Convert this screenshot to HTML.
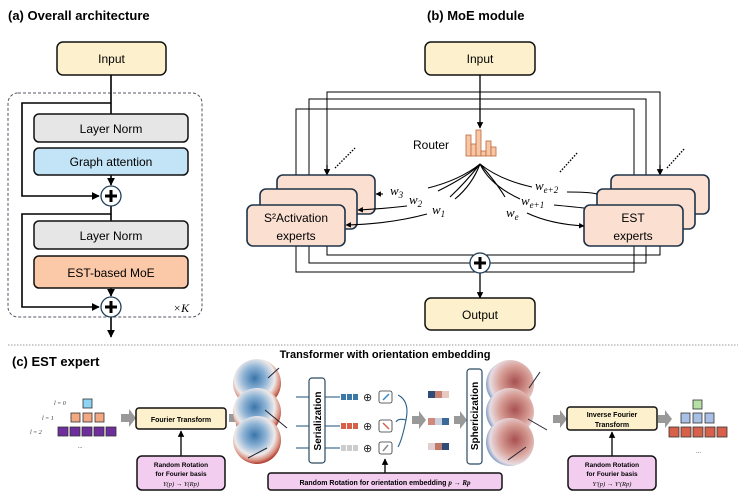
<!DOCTYPE html>
<html><head><meta charset="utf-8"><style>
body{margin:0;background:#fff}
svg{display:block;font-family:"Liberation Sans",sans-serif}
</style></head><body>
<svg width="741" height="499" viewBox="0 0 741 499" xmlns="http://www.w3.org/2000/svg">
<defs>
<marker id="a" viewBox="0 0 10 10" refX="9" refY="5" markerWidth="5" markerHeight="5" orient="auto"><path d="M0,0L10,5L0,10z" fill="#000"/></marker>
<radialGradient id="sp" cx="0.45" cy="0.4" r="0.6"><stop offset="0" stop-color="#3a75aa"/><stop offset="0.4" stop-color="#8fb4d6"/><stop offset="0.7" stop-color="#eeeaea"/><stop offset="0.88" stop-color="#d89080"/><stop offset="1" stop-color="#b03c30"/></radialGradient>
<radialGradient id="sp2" cx="0.6" cy="0.45" r="0.65"><stop offset="0" stop-color="#a85050"/><stop offset="0.5" stop-color="#d8a098"/><stop offset="0.8" stop-color="#e8dce2"/><stop offset="1" stop-color="#4a7fb8"/></radialGradient>
</defs>
<!-- (a) -->
<text x="8" y="20" font-size="13" font-weight="bold">(a) Overall architecture</text>
<rect x="57" y="42" width="109" height="33" rx="6" fill="#fdf1cd" stroke="#111" stroke-width="1.5"/>
<text x="111.5" y="63" font-size="12" text-anchor="middle">Input</text>
<rect x="8" y="93" width="194" height="224" rx="10" fill="none" stroke="#556" stroke-dasharray="3,2"/>
<g stroke="#000" stroke-width="1.6" fill="none">
<path d="M111,75V114"/><path d="M111,103H22V196H99" marker-end="url(#a)"/>
<path d="M111,175V185" marker-end="url(#a)"/>
<path d="M111,206V221"/><path d="M111,214H22V307H99" marker-end="url(#a)"/>
<path d="M111,288V296" marker-end="url(#a)"/><path d="M111,317V337" marker-end="url(#a)"/>
</g>
<rect x="34" y="114" width="154" height="28" rx="5" fill="#e6e6e6" stroke="#111" stroke-width="1.5"/>
<text x="111" y="133" font-size="12" text-anchor="middle">Layer Norm</text>
<rect x="34" y="148" width="154" height="27" rx="5" fill="#c3e3f6" stroke="#111" stroke-width="1.5"/>
<text x="111" y="166" font-size="12" text-anchor="middle">Graph attention</text>
<rect x="34" y="221" width="154" height="28" rx="5" fill="#e6e6e6" stroke="#111" stroke-width="1.5"/>
<text x="111" y="240" font-size="12" text-anchor="middle">Layer Norm</text>
<rect x="34" y="256" width="154" height="32" rx="5" fill="#fbc9a8" stroke="#111" stroke-width="1.5"/>
<text x="111" y="277" font-size="12" text-anchor="middle">EST-based MoE</text>
<g><circle cx="111" cy="196" r="10" fill="#fff" stroke="#1f3f5a" stroke-width="1.3"/><path d="M111,190V202M105,196H117" stroke="#000" stroke-width="3"/>
<circle cx="111" cy="307" r="10" fill="#fff" stroke="#1f3f5a" stroke-width="1.3"/><path d="M111,301V313M105,307H117" stroke="#000" stroke-width="3"/></g>
<text x="173" y="312" font-size="12" font-style="italic" font-family="Liberation Serif,serif">×K</text>
<!-- (b) -->
<text x="427" y="20" font-size="13" font-weight="bold">(b) MoE module</text>
<rect x="425" y="42" width="110" height="33" rx="6" fill="#fdf1cd" stroke="#111" stroke-width="1.5"/>
<text x="480" y="63" font-size="12" text-anchor="middle">Input</text>
<g stroke="#000" stroke-width="1" fill="none">
<path d="M327,175V92H660V175" /><path d="M309,189V99H646V189"/><path d="M296,205V109H634V205"/>
<path d="M327,214V255H660V214"/><path d="M309,229V263H646V229"/><path d="M296,246V272H634V246"/>
</g>
<g stroke="#000" stroke-width="1.3" fill="none">
<path d="M480,75V128" marker-end="url(#a)"/>
<path d="M327,165V175" marker-end="url(#a)"/><path d="M309,179V189" marker-end="url(#a)"/><path d="M296,195V205" marker-end="url(#a)"/>
<path d="M660,165V175" marker-end="url(#a)"/><path d="M646,179V189" marker-end="url(#a)"/><path d="M634,195V205" marker-end="url(#a)"/>
<path d="M480,273V298" marker-end="url(#a)"/>
</g>
<rect x="277" y="175" width="98" height="39" rx="6" fill="#fbe0d2" stroke="#1f3348" stroke-width="1.6"/>
<rect x="260" y="189" width="97" height="40" rx="6" fill="#fbe0d2" stroke="#1f3348" stroke-width="1.6"/>
<rect x="247" y="205" width="98" height="41" rx="6" fill="#fbe0d2" stroke="#1f3348" stroke-width="1.6"/>
<text x="296" y="222" font-size="12" text-anchor="middle">S²Activation</text>
<text x="296" y="240" font-size="12" text-anchor="middle">experts</text>
<rect x="611" y="175" width="98" height="39" rx="6" fill="#fbe0d2" stroke="#1f3348" stroke-width="1.6"/>
<rect x="597" y="189" width="98" height="40" rx="6" fill="#fbe0d2" stroke="#1f3348" stroke-width="1.6"/>
<rect x="584" y="205" width="99" height="41" rx="6" fill="#fbe0d2" stroke="#1f3348" stroke-width="1.6"/>
<text x="633" y="222" font-size="12" text-anchor="middle">EST</text>
<text x="633" y="240" font-size="12" text-anchor="middle">experts</text>
<g stroke="#000" stroke-width="1.4" stroke-dasharray="1.5,1.5"><path d="M335,168L355,148"/><path d="M560,172L578,152"/><path d="M667,168L685,148"/></g>
<text x="413" y="149" font-size="12">Router</text>
<g fill="#f8c6a4" stroke="#b86a40" stroke-width="0.8">
<rect x="466" y="135" width="5" height="21"/><rect x="471" y="144" width="5" height="12"/><rect x="476" y="130" width="5" height="26"/><rect x="481" y="151" width="5" height="5"/><rect x="486" y="141" width="5" height="15"/><rect x="491" y="147" width="5" height="9"/>
</g>
<g stroke="#000" stroke-width="1.1" fill="none">
<path d="M480,164Q460,180 428,188"/><path d="M480,164Q466,182 450,197"/><path d="M480,164Q472,185 455,199"/><path d="M480,164Q470,175 438,191"/>
<path d="M480,164Q500,180 532,187"/><path d="M480,164Q496,182 505,197"/><path d="M480,164Q490,185 520,199"/>
<path d="M383,194H376" marker-end="url(#a)"/>
<path d="M407,206Q380,209 358,210" marker-end="url(#a)"/>
<path d="M427,214Q390,224 346,225" marker-end="url(#a)"/>
<path d="M567,192Q590,192 597,194"/><path d="M554,205Q575,207 584,208"/>
<path d="M527,213Q550,224 584,226" marker-end="url(#a)"/>
</g>
<g font-family="Liberation Serif,serif" font-style="italic" font-size="13">
<text x="390" y="195">w<tspan font-size="9" dy="3">3</tspan></text>
<text x="409" y="204">w<tspan font-size="9" dy="3">2</tspan></text>
<text x="432" y="214">w<tspan font-size="9" dy="3">1</tspan></text>
<text x="535" y="190">w<tspan font-size="9" dy="3">e+2</tspan></text>
<text x="521" y="205">w<tspan font-size="9" dy="3">e+1</tspan></text>
<text x="506" y="217">w<tspan font-size="9" dy="3">e</tspan></text>
</g>
<circle cx="480" cy="263" r="10" fill="#fff" stroke="#1f3f5a" stroke-width="1.3"/><path d="M480,257V269M474,263H486" stroke="#000" stroke-width="3"/>
<rect x="425" y="298" width="110" height="32" rx="6" fill="#fdf1cd" stroke="#111" stroke-width="1.5"/>
<text x="480" y="319" font-size="12" text-anchor="middle">Output</text>
<!-- (c) -->
<path d="M8,345H738" stroke="#999" stroke-dasharray="1.5,1.5"/>
<text x="12" y="366" font-size="13" font-weight="bold">(c) EST expert</text>
<text x="385" y="358" font-size="11" font-weight="bold" text-anchor="middle">Transformer with orientation embedding</text>
<g font-family="Liberation Serif,serif" font-style="italic" font-size="6" fill="#333">
<text x="54" y="405">l = 0</text><text x="42" y="420">l = 1</text><text x="30" y="434">l = 2</text><text x="78" y="448">...</text></g>
<rect x="83" y="399" width="9" height="9" fill="#8fd3f2" stroke="#333" stroke-width="0.8"/>
<g fill="#f2a882" stroke="#333" stroke-width="0.8"><rect x="71" y="413" width="9" height="9"/><rect x="83" y="413" width="9" height="9"/><rect x="95" y="413" width="9" height="9"/></g>
<g fill="#6e2f9c" stroke="#333" stroke-width="0.8"><rect x="58" y="427" width="10" height="9"/><rect x="70" y="427" width="10" height="9"/><rect x="82" y="427" width="10" height="9"/><rect x="94" y="427" width="10" height="9"/><rect x="106" y="427" width="10" height="9"/></g>
<g fill="#999"><path d="M121,414h8v-5l7,9l-7,9v-5h-8z"/><path d="M229,414h7v-5l7,9l-7,9v-5h-7z"/><path d="M412,416h7v-5l7,9l-7,9v-5h-7z"/><path d="M454,416h6v-5l7,9l-7,9v-5h-6z"/><path d="M553,415h7v-5l7,9l-7,9v-5h-7z"/><path d="M658,415h7v-5l7,9l-7,9v-5h-7z"/></g>
<rect x="136" y="408" width="90" height="21" rx="3" fill="#fdf1cd" stroke="#111" stroke-width="1.5"/>
<text x="181" y="422" font-size="7" font-weight="bold" text-anchor="middle">Fourier Transform</text>
<path d="M181,457V431" stroke="#000" stroke-width="1.3" marker-end="url(#a)"/>
<rect x="137" y="456" width="88" height="34" rx="5" fill="#f2cdef" stroke="#111" stroke-width="1.5"/>
<text x="181" y="467" font-size="6.5" font-weight="bold" text-anchor="middle">Random Rotation</text>
<text x="181" y="476" font-size="6.5" font-weight="bold" text-anchor="middle">for Fourier basis</text>
<text x="181" y="486" font-size="6.5" font-style="italic" font-family="Liberation Serif,serif" text-anchor="middle">Y(p) → Y(Rp)</text>
<g><circle cx="257" cy="383" r="24" fill="url(#sp)"/><circle cx="257" cy="412" r="24" fill="url(#sp)"/><circle cx="257" cy="440" r="24" fill="url(#sp)"/>
<g stroke="#223" stroke-width="1"><path d="M268,378L279,368"/><path d="M265,410L287,428"/><path d="M267,448L248,458"/></g></g>
<g stroke="#2a5f86" stroke-width="1.1" fill="none"><path d="M296,397H309"/><path d="M296,426H309"/><path d="M296,448H309"/>
<path d="M325,397H340"/><path d="M325,426H340"/><path d="M325,448H340"/>
<path d="M398,395q12,6 8,25q-4,20 -8,27"/><path d="M406,420q-8,-2 -10,2"/></g>
<rect x="309" y="378" width="16" height="85" rx="3" fill="#fff" stroke="#2a4a60" stroke-width="1.2"/>
<text transform="translate(321,421) rotate(-90)" font-size="10" font-weight="bold" text-anchor="middle">Serialization</text>
<g><rect x="341" y="394" width="5" height="6" fill="#3a78a8"/><rect x="347" y="394" width="5" height="6" fill="#3a78a8"/><rect x="353" y="394" width="5" height="6" fill="#3a78a8"/>
<rect x="341" y="423" width="5" height="6" fill="#d8604a"/><rect x="347" y="423" width="5" height="6" fill="#d8604a"/><rect x="353" y="423" width="5" height="6" fill="#d8604a"/>
<rect x="341" y="445" width="5" height="6" fill="#ccc"/><rect x="347" y="445" width="5" height="6" fill="#ccc"/><rect x="353" y="445" width="5" height="6" fill="#ccc"/></g>
<g font-size="11" fill="#222"><text x="363" y="401">⊕</text><text x="363" y="430">⊕</text><text x="363" y="452">⊕</text></g>
<g stroke="#333" stroke-width="0.8" fill="#fff"><rect x="379" y="391" width="13" height="12" rx="2"/><rect x="379" y="420" width="13" height="12" rx="2"/><rect x="379" y="442" width="13" height="12" rx="2"/></g>
<g stroke-width="1.5"><path d="M383,400L389,394" stroke="#3a88c8"/><path d="M383,423L389,429" stroke="#d8604a"/><path d="M388,445L383,451" stroke="#888"/></g>
<path d="M385,473V459" stroke="#000" stroke-width="1.3" marker-end="url(#a)"/>
<rect x="268" y="473" width="234" height="17" rx="3" fill="#f2cdef" stroke="#111" stroke-width="1.5"/>
<text x="385" y="485" font-size="7" font-weight="bold" text-anchor="middle">Random Rotation for orientation embedding <tspan font-family="Liberation Serif,serif" font-style="italic">p → Rp</tspan></text>
<g><rect x="428" y="391" width="7" height="7" fill="#2f4c78"/><rect x="435" y="391" width="7" height="7" fill="#c88070"/><rect x="442" y="391" width="7" height="7" fill="#e8c8c0"/>
<rect x="428" y="418" width="7" height="7" fill="#d08878"/><rect x="435" y="418" width="7" height="7" fill="#c8d0e0"/><rect x="442" y="418" width="7" height="7" fill="#3a6898"/>
<rect x="428" y="443" width="7" height="7" fill="#e0d0d0"/><rect x="435" y="443" width="7" height="7" fill="#c07868"/><rect x="442" y="443" width="7" height="7" fill="#2f4c78"/></g>
<rect x="467" y="369" width="15" height="95" rx="3" fill="#fff" stroke="#2a4a60" stroke-width="1.2"/>
<text transform="translate(478,416) rotate(-90)" font-size="10" font-weight="bold" text-anchor="middle">Sphericization</text>
<g><circle cx="510" cy="384" r="24" fill="url(#sp2)"/><circle cx="510" cy="412" r="24" fill="url(#sp2)"/><circle cx="510" cy="442" r="24" fill="url(#sp2)"/>
<g stroke="#223" stroke-width="1"><path d="M529,388L540,372"/><path d="M528,419L547,430"/><path d="M526,447L508,460"/></g></g>
<rect x="567" y="407" width="90" height="23" rx="3" fill="#fdf1cd" stroke="#111" stroke-width="1.5"/>
<text x="612" y="417" font-size="7" font-weight="bold" text-anchor="middle">Inverse Fourier</text>
<text x="612" y="427" font-size="7" font-weight="bold" text-anchor="middle">Transform</text>
<path d="M612,457V432" stroke="#000" stroke-width="1.3" marker-end="url(#a)"/>
<rect x="568" y="456" width="88" height="34" rx="5" fill="#f2cdef" stroke="#111" stroke-width="1.5"/>
<text x="612" y="467" font-size="6.5" font-weight="bold" text-anchor="middle">Random Rotation</text>
<text x="612" y="476" font-size="6.5" font-weight="bold" text-anchor="middle">for Fourier basis</text>
<text x="612" y="486" font-size="6.5" font-style="italic" font-family="Liberation Serif,serif" text-anchor="middle">Y'(p) → Y'(Rp)</text>
<rect x="693" y="400" width="9" height="9" fill="#b6e0a6" stroke="#333" stroke-width="0.8"/>
<g fill="#a8bfe6" stroke="#333" stroke-width="0.8"><rect x="681" y="413" width="9" height="10"/><rect x="693" y="413" width="9" height="10"/><rect x="705" y="413" width="9" height="10"/></g>
<g fill="#d8604a" stroke="#333" stroke-width="0.8"><rect x="669" y="427" width="10" height="10"/><rect x="681" y="427" width="10" height="10"/><rect x="693" y="427" width="10" height="10"/><rect x="705" y="427" width="10" height="10"/><rect x="717" y="427" width="10" height="10"/></g>
<text x="696" y="453" font-size="6" fill="#333">...</text>
</svg>
</body></html>
